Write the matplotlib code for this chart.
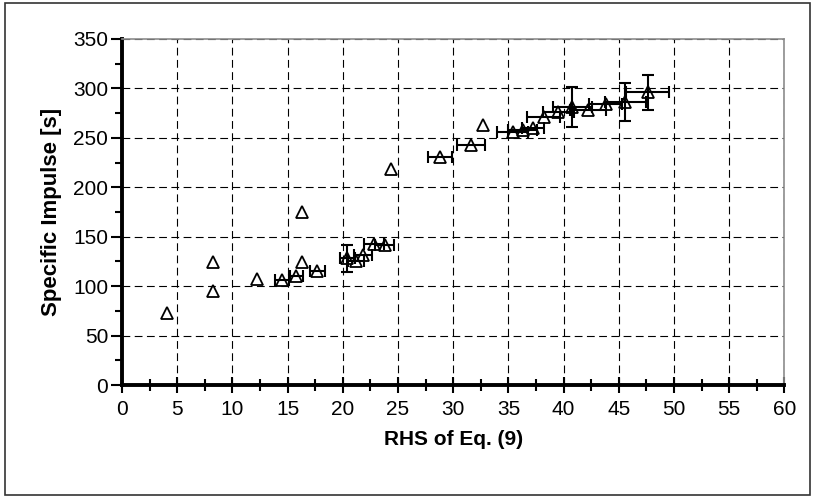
import numpy as np
import matplotlib
matplotlib.use('Agg')
import matplotlib.pyplot as plt
from matplotlib.patches import Rectangle
from matplotlib.ticker import MultipleLocator

# ==========================
# Data
# ==========================

rhs = [4.1, 8.2, 8.2, 12.2, 14.5, 15.8, 16.3, 16.3, 17.7, 20.4,
       21.2, 21.8, 22.8, 23.8, 24.4, 28.8, 31.6, 32.7, 35.4, 36.3,
       37.2, 38.2, 39.5, 40.8, 42.2, 43.8, 45.6, 47.6]
isp = [73, 124, 95, 107, 106, 110, 124, 175, 115, 128,
       125, 131, 143, 142, 219, 231, 243, 263, 256, 258,
       260, 271, 276, 281, 278, 284, 286, 296]
rhs_err = [0, 0, 0, 0, 0.6, 0.6, 0, 0, 0.7, 0.7,
           0.7, 0.8, 0.9, 0.85, 0, 1.1, 1.3, 0, 1.4, 1.3,
           1.0, 1.5, 1.4, 1.8, 1.6, 1.5, 1.85, 1.95]
isp_err = [0, 0, 0, 0, 0, 0, 0, 0, 0, 14,
           0, 0, 0, 0, 0, 0, 0, 0, 0, 0,
           0, 0, 0, 20, 0, 0, 19, 18]

x = np.array(rhs)
y = np.array(isp)
xe = np.array(rhs_err)
ye = np.array(isp_err)

# ==========================
# Plot
# ==========================

plt.rcParams['font.family'] = ['Liberation Sans', 'DejaVu Sans']

fig = plt.figure(figsize=(8.17, 4.98), dpi=100)
ax = fig.add_axes([0.1493, 0.2269, 0.8109, 0.6948])

# horizontal error bars
mx = xe > 0
ax.errorbar(x[mx], y[mx], xerr=xe[mx], fmt='none', ecolor='black',
            elinewidth=1.5, capsize=4, capthick=1.5, zorder=3)

# vertical error bars
my = ye > 0
ax.errorbar(x[my], y[my], yerr=ye[my], fmt='none', ecolor='black',
            elinewidth=1.5, capsize=4, capthick=1.5, zorder=3)

# markers
ax.plot(x, y, linestyle='none', marker='^', markersize=8,
        markerfacecolor='none', markeredgecolor='black',
        markeredgewidth=1.3, zorder=4)

ax.set_xlim(0, 60)
ax.set_ylim(0, 350)
ax.xaxis.set_major_locator(MultipleLocator(5))
ax.xaxis.set_minor_locator(MultipleLocator(2.5))
ax.yaxis.set_major_locator(MultipleLocator(50))
ax.yaxis.set_minor_locator(MultipleLocator(25))

# grid
ax.grid(True, which='major', color='black', linewidth=0.8,
        linestyle=(0, (7, 4)), zorder=1)

# spines
for side in ['left', 'bottom']:
    ax.spines[side].set_linewidth(2.8)
    ax.spines[side].set_color('black')
for side in ['top', 'right']:
    ax.spines[side].set_linewidth(1.2)
    ax.spines[side].set_color('#8c8c8c')

ax.tick_params(axis='both', which='both', top=False, right=False,
               labelsize=15, color='black')
ax.tick_params(axis='x', which='major', direction='inout', length=12, width=1.5, pad=5)
ax.tick_params(axis='x', which='minor', direction='inout', length=8, width=1.5)
ax.tick_params(axis='y', which='major', direction='out', length=8, width=1.5, pad=2)
ax.tick_params(axis='y', which='minor', direction='out', length=5, width=1.5)

# labels
ax.set_xlabel('RHS of Eq. (9)', fontsize=15, fontweight='bold', labelpad=8)
ax.set_ylabel('Specific Impulse [s]', fontsize=16, fontweight='bold', labelpad=8)

# outer frame
fig.patches.append(Rectangle((5 / 817, 3 / 498), 805 / 817, 492 / 498,
                             transform=fig.transFigure, fill=False,
                             edgecolor='#333333', linewidth=1.2))

fig.savefig('out.png', dpi=100)
